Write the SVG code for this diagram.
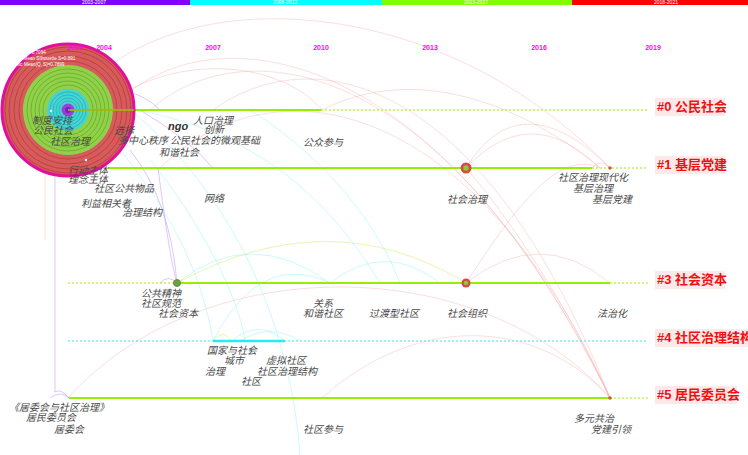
<svg xmlns="http://www.w3.org/2000/svg" width="748" height="455" viewBox="0 0 748 455">
<style>
.bg{fill:#ffffff}
.yr{font-family:"Liberation Sans",Arial,sans-serif;font-size:7px;font-weight:bold;fill:#ff00ff;text-anchor:middle}
.bar{font-family:"Liberation Sans",Arial,sans-serif;font-size:5px;fill:#ffffff;text-anchor:middle}
.leg{font-family:"Liberation Sans",Arial,sans-serif;font-size:4.6px;fill:#ffffff}
.t{font-family:"Noto Sans CJK SC","Noto Sans CJK JP",sans-serif;font-size:10px;font-style:italic;fill:#4a4a4a}
.ngo{font-family:"Liberation Sans",Arial,sans-serif;font-size:11px;font-style:italic;font-weight:bold;fill:#333}
.lbl{font-family:"Liberation Sans","Noto Sans CJK SC",sans-serif;font-size:13px;font-weight:bold;fill:#ee1111}
.lblbg{fill:#fde9e9}
.solid{stroke:#99ee00;stroke-width:2;fill:none}
.dash{stroke:#99ee00;stroke-width:1;stroke-dasharray:2,2;fill:none}
.csolid{stroke:#22eeee;stroke-width:2.5;fill:none}
.cdash{stroke:#22eeee;stroke-width:1;stroke-dasharray:2,2;fill:none}
.r{stroke:#f5a0a0;stroke-width:1;fill:none;opacity:0.35}
.p{stroke:#b070f0;stroke-width:1;fill:none;opacity:0.4}
.c{stroke:#70eeee;stroke-width:1;fill:none;opacity:0.35}
.g{stroke:#ccee66;stroke-width:1;fill:none;opacity:0.5}
</style>
<rect class="bg" x="0" y="0" width="748" height="455"/>

<g id="timebar">
<rect x="0" y="0" width="190" height="5" fill="#8000ff"/>
<rect x="190" y="0" width="192" height="5" fill="#00ffff"/>
<rect x="382" y="0" width="190" height="5" fill="#80ff00"/>
<rect x="572" y="0" width="176" height="5" fill="#ff0000"/>
<text class="bar" x="94" y="4">2003-2007</text>
<text class="bar" x="285" y="4">2008-2012</text>
<text class="bar" x="476" y="4">2013-2017</text>
<text class="bar" x="666" y="4">2018-2021</text>
</g>

<g id="connectors">
<path class="r" d="M68,110 C150,-20 430,-20 610,168"/>
<path class="r" d="M110,110 C200,10 430,30 610,398"/>
<path class="r" d="M150,110 C240,30 440,50 610,398"/>
<path class="r" d="M213,110 C310,40 480,70 610,398"/>
<path class="r" d="M160,168 C270,60 470,90 610,398"/>
<path class="r" d="M322,110 C420,60 530,110 600,168"/>
<path class="r" d="M100,110 C170,50 280,60 322,110"/>
<path class="r" d="M466,168 Q530,100 600,168"/>
<path class="r" d="M466,168 Q520,80 610,168"/>
<path class="r" d="M592,168 Q601,158 610,168"/>
<path class="r" d="M466,168 C520,230 580,330 610,398"/>
<path class="r" d="M68,398 C200,250 480,250 610,398"/>
<path class="r" d="M322,398 C420,310 540,320 610,398"/>
<path class="r" d="M466,283 Q540,225 610,283"/>
<path class="r" d="M466,283 C520,200 560,150 600,168"/>
<path class="r" d="M45,175 L45,240"/>
<path class="p" d="M95,100 Q130,80 160,110"/>
<path class="p" d="M55,170 L55,392 Q60,388 69,398"/>
<path class="p" d="M50,398 Q60,390 69,398"/>
<path class="p" d="M130,150 Q170,200 177,283"/>
<path class="p" d="M140,110 Q190,140 213,168"/>
<path class="p" d="M158,168 Q170,262 177,283"/>
<path class="p" d="M160,283 Q168,274 177,283"/>
<path class="c" d="M100,105 C250,120 330,200 380,283"/>
<path class="c" d="M120,150 C160,200 200,260 213,341"/>
<path class="c" d="M150,160 C200,220 240,300 245,341"/>
<path class="c" d="M130,110 C230,190 290,320 300,455"/>
<path class="c" d="M250,110 C330,160 380,230 400,283"/>
<path class="c" d="M177,283 Q250,225 330,283"/>
<path class="c" d="M330,283 Q385,240 440,283"/>
<path class="c" d="M213,341 Q260,250 330,283"/>
<path class="c" d="M232,341 Q258,318 285,341"/>
<path class="c" d="M240,341 Q270,322 300,341"/>
<path class="g" d="M213,341 Q222,328 232,341"/>
<path class="g" d="M177,283 Q330,200 466,283"/>
</g>

<g id="cluster0">
<line class="solid" x1="68" y1="110" x2="321" y2="110"/>
<line class="dash" x1="321" y1="110" x2="648" y2="110"/>
<rect class="lblbg" x="655" y="98" width="70" height="18"/>
<text class="lbl" x="657" y="111">#0 公民社会</text>
</g>
<g id="cluster1">
<line class="dash" x1="68" y1="168" x2="108" y2="168"/>
<line class="solid" x1="108" y1="168" x2="592" y2="168"/>
<line class="dash" x1="592" y1="168" x2="648" y2="168"/>
<rect class="lblbg" x="655" y="156" width="70" height="18"/>
<text class="lbl" x="657" y="169">#1 基层党建</text>
</g>
<g id="cluster3">
<line class="dash" x1="68" y1="283" x2="177" y2="283"/>
<line class="solid" x1="177" y1="283" x2="610" y2="283"/>
<line class="dash" x1="610" y1="283" x2="648" y2="283"/>
<rect class="lblbg" x="655" y="271" width="70" height="18"/>
<text class="lbl" x="657" y="284">#3 社会资本</text>
</g>
<g id="cluster4">
<line class="cdash" x1="68" y1="341" x2="648" y2="341"/>
<line class="csolid" x1="213" y1="341" x2="285" y2="341"/>
<rect class="lblbg" x="655" y="329" width="100" height="18"/>
<text class="lbl" x="657" y="342">#4 社区治理结构</text>
</g>
<g id="cluster5">
<line class="solid" x1="69" y1="398" x2="610" y2="398"/>
<line class="dash" x1="610" y1="398" x2="648" y2="398"/>
<rect class="lblbg" x="655" y="386" width="82" height="18"/>
<text class="lbl" x="657" y="399">#5 居民委员会</text>
</g>

<g id="node-hub">
<circle cx="68" cy="110" r="66" fill="#d65c5c" stroke="#e0109a" stroke-width="3"/>
<g fill="none" stroke="#b83a3a" stroke-width="0.8">
<circle cx="68" cy="110" r="49"/>
<circle cx="68" cy="110" r="54"/>
<circle cx="68" cy="110" r="59"/>
<circle cx="68" cy="110" r="63"/>
</g>
<circle cx="68" cy="110" r="45" fill="#8fd24a"/>
<g fill="none" stroke="#6aaa2a" stroke-width="0.8">
<circle cx="68" cy="110" r="25"/>
<circle cx="68" cy="110" r="29"/>
<circle cx="68" cy="110" r="33"/>
<circle cx="68" cy="110" r="37"/>
<circle cx="68" cy="110" r="41"/>
</g>
<circle cx="68" cy="110" r="21" fill="#44d4d4"/>
<g fill="none" stroke="#2ab0b0" stroke-width="0.8">
<circle cx="68" cy="110" r="9"/>
<circle cx="68" cy="110" r="12"/>
<circle cx="68" cy="110" r="15"/>
<circle cx="68" cy="110" r="18"/>
</g>
<circle cx="68" cy="110" r="6.5" fill="#9a40d8"/>
<circle cx="68" cy="110" r="3" fill="#7a20b8"/>
<line x1="68" y1="110" x2="134" y2="110" stroke="#99ee00" stroke-width="1.5"/>
<line x1="68" y1="110" x2="134" y2="110" stroke="#b04020" stroke-width="0.8" opacity="0.6"/>
<circle cx="51" cy="111" r="1.2" fill="#fff"/>
<circle cx="86" cy="160" r="1.2" fill="#fff"/>
<text class="leg" x="3" y="54">Modularity Q=0.7094</text>
<text class="leg" x="3" y="60">Weighted Mean Silhouette S=0.891</text>
<text class="leg" x="3" y="66">Harmonic Mean(Q, S)=0.7899</text>
</g>

<g id="years">
<text class="yr" x="75" y="50">2003</text>
<text class="yr" x="104" y="50">2004</text>
<text class="yr" x="213" y="50">2007</text>
<text class="yr" x="321" y="50">2010</text>
<text class="yr" x="430" y="50">2013</text>
<text class="yr" x="539" y="50">2016</text>
<text class="yr" x="653" y="50">2019</text>
</g>

<g id="node-shzl">
<circle cx="466" cy="168" r="5.5" fill="#d84a4a"/>
<circle cx="466" cy="168" r="2.7" fill="#88cc33"/>
</g>
<g id="node-jcdj"><circle cx="610" cy="168" r="1.8" fill="#d06030"/></g>
<g id="node-shzb"><circle cx="177" cy="283" r="3.5" fill="#55aa44" stroke="#997744" stroke-width="1"/></g>
<g id="node-shzz">
<circle cx="466" cy="283" r="4.5" fill="#d84a4a"/>
<circle cx="466" cy="283" r="2.3" fill="#88cc33"/>
</g>
<g id="node-jwh"><circle cx="610" cy="398" r="1.8" fill="#d06030"/></g>
<g id="node-gjysh"><circle cx="251" cy="350" r="1.3" fill="#44bbaa"/></g>

<g id="labels">
<text class="t" x="32" y="124">制度安排</text>
<text class="t" x="33" y="134">公民社会</text>
<text class="t" x="50" y="144.5">社区治理</text>
<text class="t" x="114" y="134">选择</text>
<text class="t" x="118" y="144">多中心秩序</text>
<text class="t" x="170" y="144">公民社会的微观基础</text>
<text class="t" x="159" y="156">和谐社会</text>
<text class="ngo" x="168" y="130">ngo</text>
<text class="t" x="193" y="124">人口治理</text>
<text class="t" x="204" y="133">创新</text>
<text class="t" x="303" y="145.5">公众参与</text>
<text class="t" x="68" y="174">行动主体</text>
<text class="t" x="68" y="183">理念主体</text>
<text class="t" x="94" y="192">社区公共物品</text>
<text class="t" x="81" y="207">利益相关者</text>
<text class="t" x="122" y="215.5">治理结构</text>
<text class="t" x="204" y="202">网络</text>
<text class="t" x="447" y="202.5">社会治理</text>
<text class="t" x="558" y="181">社区治理现代化</text>
<text class="t" x="573" y="191.5">基层治理</text>
<text class="t" x="592" y="202.5">基层党建</text>
<text class="t" x="141" y="296.5">公共精神</text>
<text class="t" x="141" y="306.5">社区规范</text>
<text class="t" x="158" y="317">社会资本</text>
<text class="t" x="313" y="306.5">关系</text>
<text class="t" x="303" y="316.5">和谐社区</text>
<text class="t" x="369" y="316.5">过渡型社区</text>
<text class="t" x="447" y="316.5">社会组织</text>
<text class="t" x="597" y="316.5">法治化</text>
<text class="t" x="207" y="353.5">国家与社会</text>
<text class="t" x="224" y="363.5">城市</text>
<text class="t" x="266" y="363.5">虚拟社区</text>
<text class="t" x="205" y="374.5">治理</text>
<text class="t" x="257" y="374.5">社区治理结构</text>
<text class="t" x="241" y="384.5">社区</text>
<text class="t" x="9" y="411">《居委会与社区治理》</text>
<text class="t" x="26" y="420.5">居民委员会</text>
<text class="t" x="54" y="432.5">居委会</text>
<text class="t" x="303" y="432.5">社区参与</text>
<text class="t" x="574" y="421.5">多元共治</text>
<text class="t" x="591" y="432.5">党建引领</text>
</g>
</svg>
